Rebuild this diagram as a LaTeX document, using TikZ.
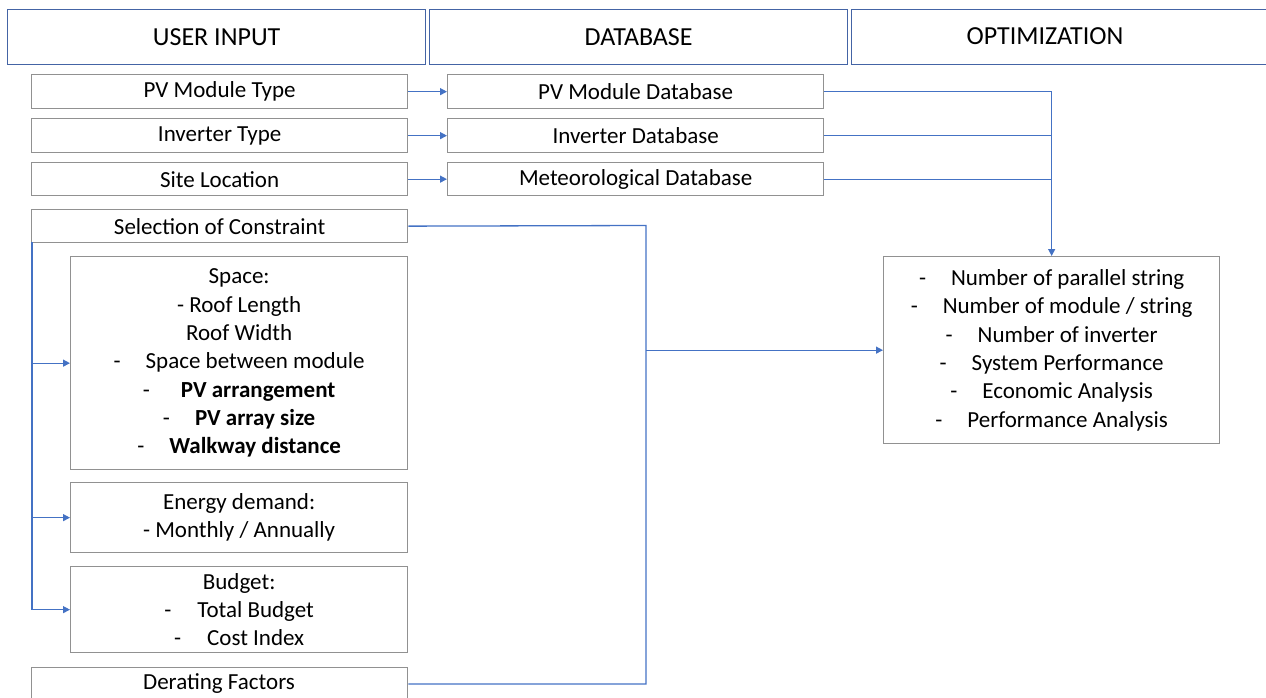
\documentclass[tikz,border=0pt]{standalone}
\usepackage{fontspec}
\setmainfont{Carlito}
\usetikzlibrary{arrows.meta}
\definecolor{hdr}{RGB}{68,100,165}
\definecolor{gbox}{RGB}{145,145,145}
\definecolor{conn}{RGB}{68,114,196}
\begin{document}
\begin{tikzpicture}[x=1pt,y=-1pt,
  hbox/.style={draw=hdr,line width=1.3pt,anchor=north west,inner sep=0pt,
    font=\fontsize{26}{31}\selectfont},
  gb/.style={draw=gbox,line width=1.3pt,anchor=north west,inner sep=0pt,align=center,
    font=\fontsize{23}{28.3}\selectfont},
  cn/.style={draw=conn,line width=1.3pt},
  ar/.style={cn,-{Triangle[length=7pt,width=7pt]}}]
\useasboundingbox (0,0) rectangle (1266,698);
% headers
\node[hbox,minimum width=418pt,minimum height=55pt] (h1) at (7,9) {USER INPUT};
\node[hbox,minimum width=418pt,minimum height=55pt] (h2) at (429,9) {DATABASE};
\node[hbox,minimum width=418pt,minimum height=55pt] (h3) at (851,9) {};
\node[font=\fontsize{26}{31}\selectfont,inner sep=0pt] (h3t) at (1045,36.5) {OPTIMIZATION};
% user inputs
\node[gb,minimum width=376pt,minimum height=34pt] (pvt) at (31,74) {PV Module Type};
\node[gb,minimum width=376pt,minimum height=34pt] (ivt) at (31,118) {Inverter Type};
\node[gb,minimum width=376pt,minimum height=33pt] (site) at (31,162) {Site Location};
\node[gb,minimum width=376pt,minimum height=33pt] (sel) at (31,209) {Selection of Constraint};
% databases
\node[gb,minimum width=376pt,minimum height=34pt] (pvdb) at (447,74) {PV Module Database};
\node[gb,minimum width=376pt,minimum height=34pt] (ivdb) at (447,118) {Inverter Database};
\node[gb,minimum width=376pt,minimum height=33pt] (metdb) at (447,162) {Meteorological Database};
% constraints
\node[gb,minimum width=337pt,minimum height=213pt] (space) at (70,256) {Space:\\- Roof Length\\Roof Width\\-\hspace{25pt}Space between module\\-\hspace{31pt}\textbf{PV arrangement}\\-\hspace{25pt}\textbf{PV array size}\\-\hspace{25pt}\textbf{Walkway distance}};
\node[gb,minimum width=337pt,minimum height=70pt] (energy) at (70,482) {Energy demand:\\- Monthly / Annually};
\node[gb,minimum width=337pt,minimum height=86pt] (budget) at (70,566) {Budget:\\-\hspace{26pt}Total Budget\\-\hspace{26pt}Cost Index};
\node[gb,minimum width=376pt,minimum height=40pt,anchor=north west] (der) at (31,667) {};
\node[font=\fontsize{23}{28.3}\selectfont,inner sep=0pt] (dert) at (219,684) {Derating Factors};
% optimization result
\node[gb,minimum width=336pt,minimum height=187pt] (opt) at (883,256) {-\hspace{25pt}Number of parallel string\\-\hspace{25pt}Number of module / string\\-\hspace{25pt}Number of inverter\\-\hspace{25pt}System Performance\\-\hspace{25pt}Economic Analysis\\-\hspace{25pt}Performance Analysis};
% connectors
\draw[ar] (pvt.east) -- (pvdb.west);
\draw[ar] (ivt.east) -- (ivdb.west);
\draw[ar] (site.east) -- (metdb.west);
\draw[ar] (pvdb.east) -| (opt.north);
\draw[cn] (ivdb.east) -- (ivdb.east -| opt.north);
\draw[cn] (metdb.east) -- (metdb.east -| opt.north);
\coordinate (jt) at (646,225.5);
\coordinate (jb) at (646,684);
\draw[cn] (sel.east) -- (jt) -- (jb) -- (jb -| der.east);
\draw[ar] (opt.west -| jt) -- (opt.west);
\coordinate (ls) at (32,242);
\draw[cn] (ls) -- (ls |- budget.west);
\draw[ar] (ls |- space.west) -- (space.west);
\draw[ar] (ls |- energy.west) -- (energy.west);
\draw[ar] (ls |- budget.west) -- (budget.west);
\end{tikzpicture}
\end{document}
